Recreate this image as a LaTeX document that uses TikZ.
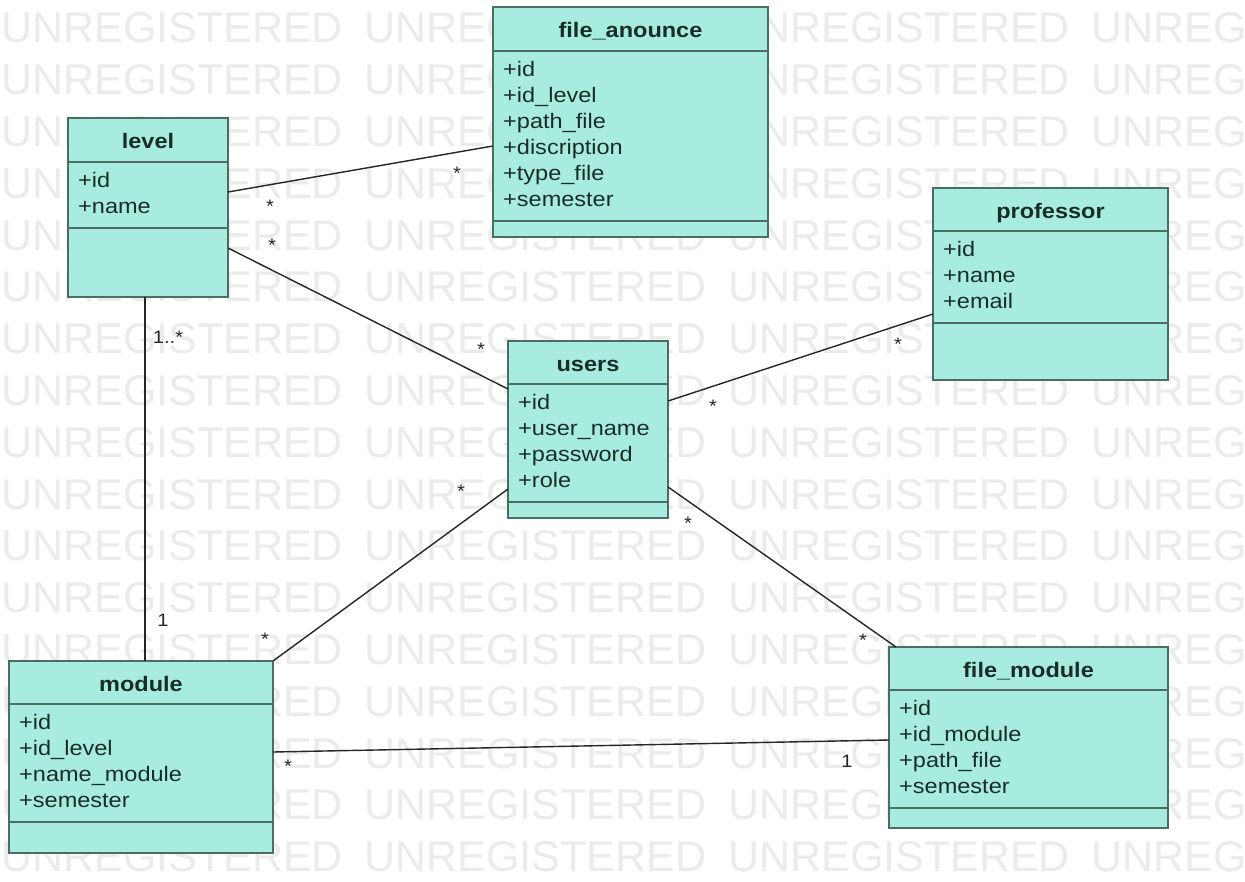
\documentclass[tikz,border=0pt]{standalone}
\usepackage{fontspec}
\setmainfont{Liberation Sans}[FakeStretch=1.12]
\newfontfamily\wmfont{Liberation Sans}

\definecolor{classfill}{RGB}{168,236,224}
\definecolor{classline}{RGB}{74,110,100}
\definecolor{classtext}{RGB}{25,45,40}
\definecolor{watermark}{RGB}{235,235,235}

\begin{document}
\begin{tikzpicture}[x=1pt,y=-1pt,
	classbox/.style={draw=classline,fill=classfill,line width=2.4pt,anchor=north west,inner sep=0,outer sep=0},
	classname/.style={anchor=base,inner sep=0,text=classtext,font=\fontsize{21}{26}\selectfont\bfseries},
	classattr/.style={anchor=north west,inner sep=0,align=left,text=classtext,font=\fontsize{21}{26}\selectfont},
	compline/.style={draw=classline,line width=2.4pt},
	assoc/.style={draw=black!85,line width=1.4pt},
	mult/.style={inner sep=0,text=black!85,font=\fontsize{18}{18}\selectfont},
	wmark/.style={anchor=west,inner sep=0,text=watermark,font=\wmfont\fontsize{43}{43}\selectfont}]
	\useasboundingbox[fill=white] (0,0) rectangle (1245,881);
	% watermark
	\begin{scope}
		\clip (0,0) rectangle (1245,881);
		\foreach \r in {0,...,16}
			\foreach \c/\w in {0/UNREGISTERED,1/UNREGISTERED,2/UNREGISTERED,3/UNREG}
				\node[wmark] (wm\r-\c) at ({1+363.5*\c},{28+51.8*\r}) {\w};
	\end{scope}
	% classes
	\node[classbox,minimum width=160pt,minimum height=179pt] (level) at (68,118) {};
	\draw[compline] (level.west |- 0,162) -- (level.east |- 0,162);
	\draw[compline] (level.west |- 0,228) -- (level.east |- 0,228);
	\node[classname] (levelname) at (148,148) {level};
	\node[classattr] (levelattr) at (78,172) {+id\\+name};

	\node[classbox,minimum width=275pt,minimum height=230pt] (fileanounce) at (493,7) {};
	\draw[compline] (fileanounce.west |- 0,51) -- (fileanounce.east |- 0,51);
	\draw[compline] (fileanounce.west |- 0,221) -- (fileanounce.east |- 0,221);
	\node[classname] (fileanouncename) at (630.5,37) {file\_anounce};
	\node[classattr] (fileanounceattr) at (503,61) {+id\\+id\_level\\+path\_file\\+discription\\+type\_file\\+semester};

	\node[classbox,minimum width=235pt,minimum height=192pt] (professor) at (933,188) {};
	\draw[compline] (professor.west |- 0,231) -- (professor.east |- 0,231);
	\draw[compline] (professor.west |- 0,323) -- (professor.east |- 0,323);
	\node[classname] (professorname) at (1050.5,218) {professor};
	\node[classattr] (professorattr) at (943,241) {+id\\+name\\+email};

	\node[classbox,minimum width=160pt,minimum height=177pt] (users) at (508,341) {};
	\draw[compline] (users.west |- 0,384) -- (users.east |- 0,384);
	\draw[compline] (users.west |- 0,502) -- (users.east |- 0,502);
	\node[classname] (usersname) at (588,371) {users};
	\node[classattr] (usersattr) at (518,394) {+id\\+user\_name\\+password\\+role};

	\node[classbox,minimum width=264pt,minimum height=192pt] (module) at (9,661) {};
	\draw[compline] (module.west |- 0,704) -- (module.east |- 0,704);
	\draw[compline] (module.west |- 0,822) -- (module.east |- 0,822);
	\node[classname] (modulename) at (141,691) {module};
	\node[classattr] (moduleattr) at (19,714) {+id\\+id\_level\\+name\_module\\+semester};

	\node[classbox,minimum width=279pt,minimum height=181pt] (filemodule) at (889,647) {};
	\draw[compline] (filemodule.west |- 0,690) -- (filemodule.east |- 0,690);
	\draw[compline] (filemodule.west |- 0,808) -- (filemodule.east |- 0,808);
	\node[classname] (filemodulename) at (1028.5,677) {file\_module};
	\node[classattr] (filemoduleattr) at (899,700) {+id\\+id\_module\\+path\_file\\+semester};
	% associations
	\draw[assoc] (level.east |- 0,192) -- (fileanounce.west |- 0,146);
	\draw[assoc] (level.east |- 0,248) -- (users.west |- 0,389);
	\draw[assoc] (level.south -| 145,0) -- (module.north -| 145,0);
	\draw[assoc] (users.east |- 0,401) -- (professor.west |- 0,314);
	\draw[assoc] (users.west |- 0,489) -- (module.north east);
	\draw[assoc] (users.east |- 0,487) -- (filemodule.north -| 896,0);
	\draw[assoc] (module.east |- 0,752) -- (filemodule.west |- 0,740);
	% multiplicities
	\node[mult] (m1) at (270,206) {*};
	\node[mult] (m2) at (457,173) {*};
	\node[mult] (m3) at (272,245) {*};
	\node[mult] (m4) at (481,349) {*};
	\node[mult] (m5) at (168,337) {1..*};
	\node[mult] (m6) at (163,620) {1};
	\node[mult] (m7) at (713,406) {*};
	\node[mult] (m8) at (898,344) {*};
	\node[mult] (m9) at (461,491) {*};
	\node[mult] (m10) at (265,639) {*};
	\node[mult] (m11) at (688,523) {*};
	\node[mult] (m12) at (863,640) {*};
	\node[mult] (m13) at (288,766) {*};
	\node[mult] (m14) at (847,761) {1};
\end{tikzpicture}
\end{document}
